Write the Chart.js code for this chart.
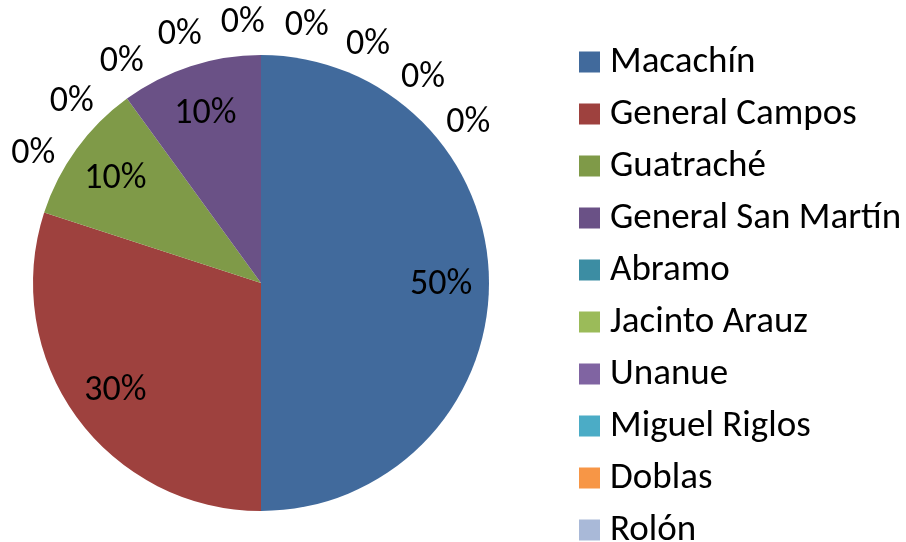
<!DOCTYPE html>
<html>
<head>
<meta charset="utf-8">
<script src="https://cdn.jsdelivr.net/npm/chart.js@4/dist/chart.umd.min.js"></script>
<style>
    html, body { margin: 0; padding: 0; background: #fff; }
    #wrap { width: 906px; height: 542px; position: relative; }
</style>
</head>
<body>
<div id="wrap"><canvas id="pie"></canvas></div>
<script>
// Categories (the legend in the original is cut after "Rolón"; three more zero slices exist)
const categories = ['Macachín', 'General Campos', 'Guatraché', 'General San Martín', 'Abramo',
    'Jacinto Arauz', 'Unanue', 'Miguel Riglos', 'Doblas', 'Rolón', '', '', ''];
const shares = [50, 30, 10, 10, 0, 0, 0, 0, 0, 0, 0, 0, 0];
const sliceColors = ['#416a9c', '#9e413e', '#7f9a48', '#6a5186', '#3c8da3',
    '#9bbb59', '#8064a2', '#4bacc6', '#f79646', '#a9b9d8', '#2c4d75', '#772c2a', '#5f7530'];
const legendCount = 10;

const FONT = "'Carlito', 'Open Sans', sans-serif";

// Percent labels: inside for real slices, spread over the top for the empty ones
const pctLabels = {
    id: 'pctLabels',
    afterDatasetsDraw(chart) {
        const ctx = chart.ctx;
        const arcs = chart.getDatasetMeta(0).data;
        const zeros = [];
        shares.forEach((v, i) => { if (v === 0) zeros.push(i); });
        ctx.save();
        ctx.font = '36px ' + FONT;
        ctx.fillStyle = '#000';
        ctx.textAlign = 'center';
        ctx.textBaseline = 'middle';
        arcs.forEach((arc, i) => {
            const { x, y, startAngle, endAngle, outerRadius } = arc.getProps(['x', 'y', 'startAngle', 'endAngle', 'outerRadius'], true);
            let a, r;
            if (shares[i] > 0) {
                a = (startAngle + endAngle) / 2;
                r = outerRadius * 0.79;
            } else {
                const k = zeros.indexOf(i);
                const deg = -60 + k * 14;
                a = (deg - 90) * Math.PI / 180;
                r = outerRadius + 35;
            }
            ctx.fillText(shares[i] + '%', x + Math.cos(a) * r, y + Math.sin(a) * r + 2);
        });
        ctx.restore();
    }
};

// Legend drawn down the right side
const sideLegend = {
    id: 'sideLegend',
    afterDraw(chart) {
        const ctx = chart.ctx;
        ctx.save();
        ctx.font = '37px ' + FONT;
        ctx.textBaseline = 'middle';
        ctx.textAlign = 'left';
        for (let i = 0; i < legendCount; i++) {
            const cy = 62 + i * 52;
            ctx.fillStyle = sliceColors[i];
            ctx.fillRect(579, cy - 10.5, 21, 21);
            ctx.fillStyle = '#000';
            ctx.fillText(categories[i], 610, cy + 1);
        }
        ctx.restore();
    }
};

new Chart(document.getElementById('pie'), {
    type: 'pie',
    data: {
        labels: categories,
        datasets: [{
            data: shares,
            backgroundColor: sliceColors,
            borderWidth: 0
        }]
    },
    options: {
        responsive: true,
        maintainAspectRatio: false,
        animation: false,
        layout: { padding: { top: 55, bottom: 31, left: 33, right: 417 } },
        plugins: {
            legend: { display: false },
            tooltip: { enabled: false }
        }
    },
    plugins: [pctLabels, sideLegend]
});
</script>
</body>
</html>
